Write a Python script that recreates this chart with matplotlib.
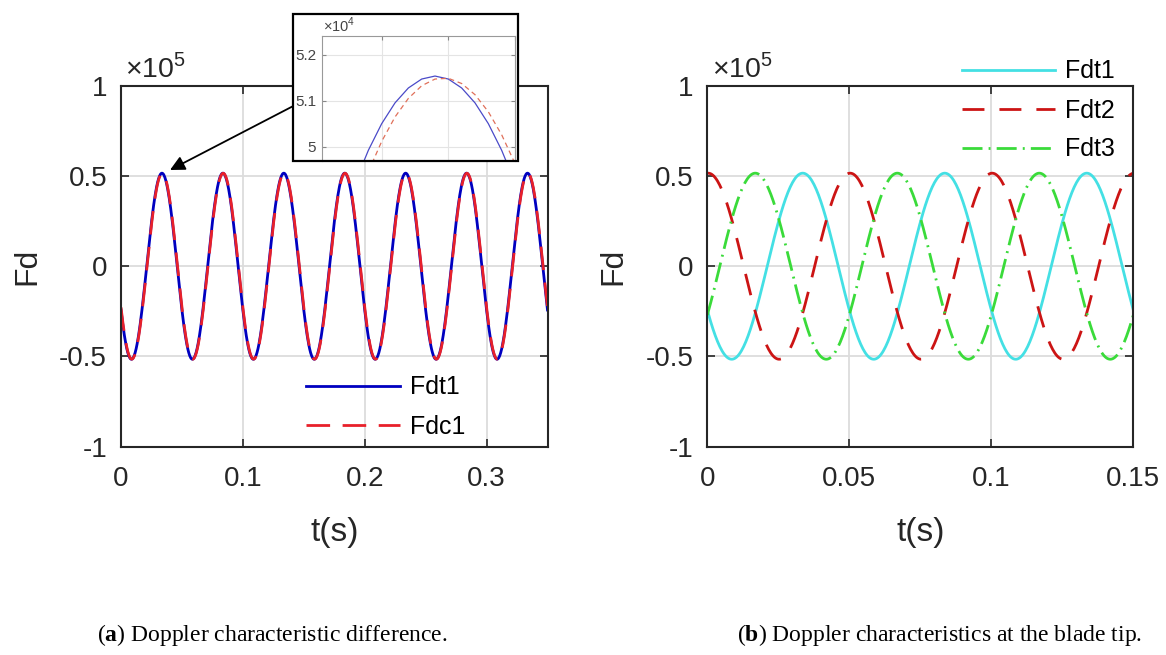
import numpy as np
import matplotlib
matplotlib.use('Agg')
import matplotlib.pyplot as plt
from matplotlib.patches import Rectangle

plt.rcParams['font.family'] = ['Liberation Sans', 'DejaVu Sans']
plt.rcParams['mathtext.fontset'] = 'custom'
plt.rcParams['mathtext.rm'] = 'Liberation Sans'
plt.rcParams['mathtext.bf'] = 'Liberation Serif:bold'

# signal parameters (Hz / s)
amp_fdt = 51540
amp_fdc = 51500
period = 0.05
peak_fdt1 = 0.0336
peak_fdc1 = 0.03385
peak_fdt2 = 0.0003
peak_fdt3 = 0.0169
dt = 0.0004

y_ticks = [-1e5, -0.5e5, 0, 0.5e5, 1e5]
y_labels = ['-1', '-0.5', '0', '0.5', '1']
xa_ticks = [0, 0.1, 0.2, 0.3]
xa_labels = ['0', '0.1', '0.2', '0.3']
xb_ticks = [0, 0.05, 0.1, 0.15]
xb_labels = ['0', '0.05', '0.1', '0.15']
zoom_xticks = [0.032, 0.034, 0.036]
zoom_yticks = [50000, 51000, 52000]
zoom_ylabels = ['5', '5.1', '5.2']

t_a = np.arange(0, 0.35 + 1e-9, dt)
t_b = np.arange(0, 0.15 + 1e-9, dt)


def fd(t, amp, peak):
    return amp * np.cos(2 * np.pi * (t - peak) / period)


W, H = 1166, 655
fig = plt.figure(figsize=(W / 100, H / 100), dpi=100)


def style(ax):
    for s in ax.spines.values():
        s.set_color('#262626')
        s.set_linewidth(1.5)
    ax.tick_params(direction='in', top=True, right=True, length=6, width=1.2,
                   labelsize=20, labelcolor='#262626', color='#262626')
    ax.tick_params(axis='y', pad=10)
    ax.tick_params(axis='x', pad=14)
    ax.grid(True, color='#dcdcdc', lw=1.3)
    ax.set_axisbelow(True)
    ax.set_ylim(-1e5, 1e5)
    ax.set_yticks(y_ticks)
    ax.set_yticklabels(y_labels)
    ax.set_ylabel('Fd', fontsize=23, color='#262626')
    ax.yaxis.set_label_coords(-0.185, 0.5)
    ax.set_xlabel('t(s)', fontsize=24, color='#262626')
    ax.xaxis.set_label_coords(0.5, -0.195)
    ax.text(0.01, 1.023, r'$\times10^{5}$', transform=ax.transAxes, fontsize=20.5,
            color='#262626', va='baseline')


ax_bot = 1 - 446.7 / H
ax_h = (446.7 - 85.7) / H

# (a) left panel
ax1 = fig.add_axes([121 / W, ax_bot, 426.5 / W, ax_h])
ax1.plot(t_a, fd(t_a, amp_fdt, peak_fdt1), color='#0000c0', lw=2, label='Fdt1')
ax1.plot(t_a, fd(t_a, amp_fdc, peak_fdc1), color='#e8202a', lw=2,
         dashes=(8.5, 4.5), label='Fdc1')
ax1.set_xlim(0, 0.35)
ax1.set_xticks(xa_ticks)
ax1.set_xticklabels(xa_labels)
style(ax1)
ax1.legend(loc='center left', bbox_to_anchor=(306 / W, 1 - 407 / H),
           bbox_transform=fig.transFigure, frameon=False, fontsize=18,
           handlelength=3.75, handletextpad=0.4, labelspacing=0.6,
           borderpad=0, borderaxespad=0)

# (b) right panel
ax2 = fig.add_axes([707.3 / W, ax_bot, 426 / W, ax_h])
ax2.plot(t_b, fd(t_b, amp_fdt, peak_fdt1), color='#44e0e4', lw=2, label='Fdt1')
ax2.plot(t_b, fd(t_b, amp_fdt, peak_fdt2), color='#cc1414', lw=2,
         dashes=(7.9, 5.4), label='Fdt2')
ax2.plot(t_b, fd(t_b, amp_fdt, peak_fdt3), color='#3adb3a', lw=2,
         dashes=(7.2, 2.2, 0.7, 2.2), label='Fdt3')
ax2.set_xlim(0, 0.15)
ax2.set_xticks(xb_ticks)
ax2.set_xticklabels(xb_labels)
style(ax2)
ax2.legend(loc='center left', bbox_to_anchor=(961.7 / W, 1 - 110.5 / H),
           bbox_transform=fig.transFigure, frameon=False, fontsize=18,
           handlelength=3.75, handletextpad=0.4, labelspacing=0.6,
           borderpad=0, borderaxespad=0)

# zoomed inset of the first peak
fx0, fy0, fx1, fy1 = 293.3, 14.3, 518.3, 160.7
fig.patches.append(Rectangle((fx0 / W, 1 - fy1 / H), (fx1 - fx0) / W, (fy1 - fy0) / H,
                             transform=fig.transFigure, fc='white', ec='none', zorder=5))
fig.patches.append(Rectangle((fx0 / W, 1 - fy1 / H), (fx1 - fx0) / W, (fy1 - fy0) / H,
                             transform=fig.transFigure, fill=False, ec='black', lw=1.6,
                             zorder=7))
axi = fig.add_axes([321.7 / W, 1 - 160.7 / H, 193.3 / W, 125 / H])
axi.set_zorder(6)
axi.plot(t_a, fd(t_a, amp_fdt, peak_fdt1), color='#4a4ac8', lw=0.9)
axi.plot(t_a, fd(t_a, amp_fdc, peak_fdc1), color='#e0705a', lw=0.9, dashes=(4, 3))
axi.set_xlim(0.0302, 0.036)
axi.set_ylim(49694, 52420)
axi.set_xticks(zoom_xticks)
axi.set_xticklabels([])
axi.set_yticks(zoom_yticks)
axi.set_yticklabels(zoom_ylabels)
axi.tick_params(direction='in', top=True, bottom=False, right=True, length=3,
                labelsize=11, labelcolor='#444444', color='#888888', pad=4)
for s in axi.spines.values():
    s.set_color('#999999')
    s.set_linewidth(0.8)
axi.spines['bottom'].set_visible(False)
axi.grid(True, color='#e4e4e4', lw=0.8)
axi.set_axisbelow(True)
axi.text(0.005, 1.03, r'$\times10^{4}$', transform=axi.transAxes, fontsize=10.5,
         color='#444444', va='baseline')

# arrow from the inset to the peak
ax1.annotate('', xy=(170, H - 170), xycoords='figure pixels',
             xytext=(fx0, H - 106), textcoords='figure pixels',
             arrowprops=dict(arrowstyle='-|>', color='black', lw=1.3,
                             mutation_scale=22, shrinkA=0, shrinkB=0))

# captions
fig.text(97 / W, 1 - 641 / H, r'($\mathbf{a}$) Doppler characteristic difference.',
         family='Liberation Serif', fontsize=17, va='baseline')
fig.text(737 / W, 1 - 641 / H, r'($\mathbf{b}$) Doppler characteristics at the blade tip.',
         family='Liberation Serif', fontsize=17, va='baseline')

fig.savefig('out.png', dpi=100)
